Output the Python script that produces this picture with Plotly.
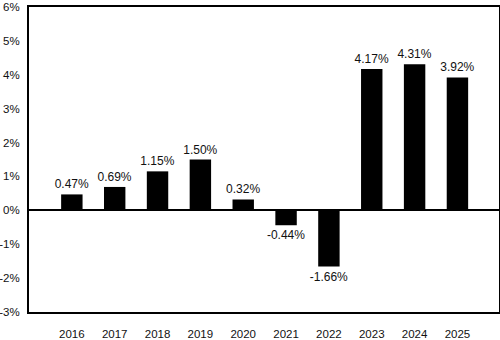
import plotly.graph_objects as go

years = ["2016", "2017", "2018", "2019", "2020", "2021", "2022", "2023", "2024", "2025"]
values = [0.47, 0.69, 1.15, 1.50, 0.32, -0.44, -1.66, 4.17, 4.31, 3.92]
y_ticks = [-3, -2, -1, 0, 1, 2, 3, 4, 5, 6]
y_tick_labels = [f"{v}%" for v in y_ticks]

FONT = "Liberation Sans, Arial, sans-serif"

fig = go.Figure(go.Bar(
    x=years, y=values,
    marker=dict(color="black", line=dict(width=0)),
    width=0.5,
    texttemplate="%{y:.2f}%",
    textposition="outside",
    constraintext="none",
    textfont=dict(size=12, color="#111", family=FONT),
    outsidetextfont=dict(size=12, color="#111", family=FONT),
    cliponaxis=False,
))

fig.update_layout(
    width=500, height=340,
    margin=dict(l=28.5, r=1, t=7, b=28),
    paper_bgcolor="white", plot_bgcolor="white",
    font=dict(family=FONT, size=12, color="#111"),
    showlegend=False,
    xaxis=dict(
        type="category", range=[-1, 9.97],
        showline=True, linecolor="black", linewidth=2, mirror=True,
        showgrid=False, ticks="", ticklabelstandoff=10, automargin=False,
        tickfont=dict(size=11.5),
    ),
    yaxis=dict(
        range=[-3, 6], tickvals=y_ticks, ticktext=y_tick_labels,
        showline=True, linecolor="black", linewidth=2, mirror=True,
        showgrid=False, ticks="", ticklabelstandoff=5, automargin=False,
        zeroline=True, zerolinecolor="black", zerolinewidth=1.5,
        tickfont=dict(size=11.5),
    ),
)

fig.write_html("out.html")
